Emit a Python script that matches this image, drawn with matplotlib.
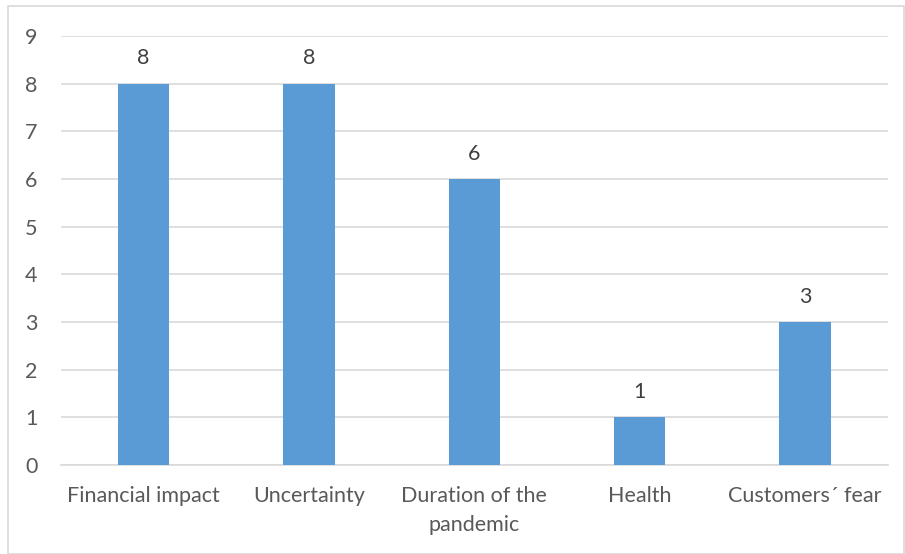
import matplotlib
matplotlib.use("Agg")
import matplotlib.pyplot as plt
from matplotlib.patches import Rectangle

categories = ["Financial impact", "Uncertainty", "Duration of the\npandemic", "Health", "Customers\u00b4 fear"]
counts = [8, 8, 6, 1, 3]
y_ticks = list(range(0, 10))

bar_color = "#5B9BD5"
text_color = "#595959"
grid_color = "#D9D9D9"

plt.rcParams["font.family"] = ["Lato", "DejaVu Sans"]

fig = plt.figure(figsize=(9.05, 5.54), dpi=100)
ax = fig.add_axes([0.0674, 0.1606, 0.9136, 0.7744])

x = range(len(categories))
bars = ax.bar(x, counts, width=0.31, color=bar_color, zorder=3)

# value labels above each bar
for rect, v in zip(bars, counts):
    ax.annotate(str(v), (rect.get_x() + rect.get_width() / 2, v),
                xytext=(0, 11), textcoords="offset points",
                ha="center", va="bottom", fontsize=15.5, color="#404040")

ax.set_xlim(-0.5, len(categories) - 0.5)
ax.set_ylim(0, 9)
ax.set_yticks(y_ticks)
ax.set_xticks(list(x))
ax.set_xticklabels(categories, fontsize=15.5, color=text_color, linespacing=1.55)
ax.tick_params(axis="y", labelsize=15.5, labelcolor=text_color, length=0, pad=17)
ax.tick_params(axis="x", length=0, pad=15)
ax.yaxis.grid(True, color=grid_color, linewidth=1.2, zorder=0)
for side in ["top", "right", "left"]:
    ax.spines[side].set_visible(False)
ax.spines["bottom"].set_color(grid_color)
ax.spines["bottom"].set_linewidth(1.2)

# thin frame around the whole chart
fig.patches.append(Rectangle((0.009, 0.0), 0.99, 0.989, transform=fig.transFigure,
                             fill=False, edgecolor=grid_color, linewidth=1.2))

fig.savefig("out.png", dpi=100)
